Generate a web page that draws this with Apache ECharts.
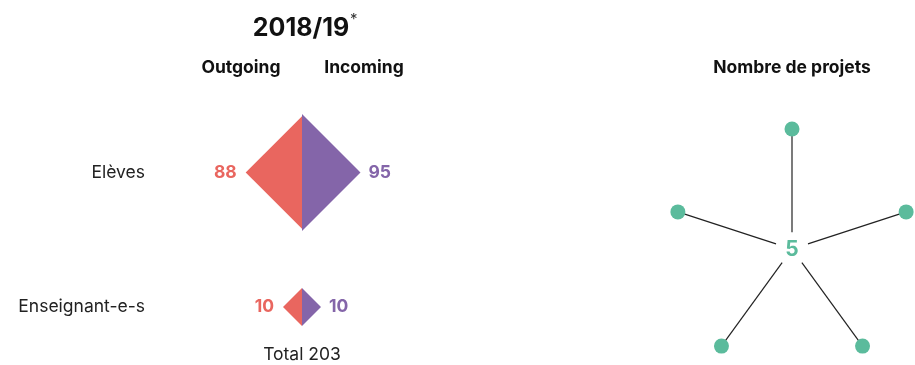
<!DOCTYPE html>
<html>
<head>
<meta charset="utf-8">
<script src="https://cdn.jsdelivr.net/npm/echarts@6/dist/echarts.min.js"></script>
<style>
  html, body { margin: 0; padding: 0; background: #fff; }
  #chart { width: 915px; height: 365px; }
</style>
</head>
<body>
<div id="chart"></div>
<script>
// Exchange figures for the school year
const yearLabel = '2018/19';
const rows = ['Elèves', 'Enseignant-e-s'];
const outgoing = [88, 10];
const incoming = [95, 10];
const directionLabels = ['Outgoing', 'Incoming'];
const projectCount = 5;

const RED = '#E9665F';
const PURPLE = '#8465A9';
const GREEN = '#5BBB9C';
const TEXT = '#222';
const FONT = 'Inter, "Noto Sans", sans-serif';

// diamond half-size in pixels grows with the square root of the value (area scale)
const SIZE_K = 6;

const total = outgoing.concat(incoming).reduce((s, v) => s + v, 0);

const diamondData = rows.map((r, i) => [i, outgoing[i], incoming[i]]);

const nodeData = [];
for (let i = 0; i < projectCount; i++) nodeData.push([1, i * 360 / projectCount]);

const chart = echarts.init(document.getElementById('chart'), null, { renderer: 'canvas' });

chart.setOption({
  animation: false,
  textStyle: { fontFamily: FONT },
  title: [
    { text: yearLabel, left: 296, top: 11, textAlign: 'center',
      textStyle: { fontSize: 25, fontWeight: 'bold', color: '#111', fontFamily: FONT } },
    { text: '*', left: 345, top: 7,
      textStyle: { fontSize: 15, fontWeight: 'normal', color: '#333', fontFamily: FONT } },
    { text: directionLabels[0], left: 236, top: 54, textAlign: 'center',
      textStyle: { fontSize: 17.5, fontWeight: 'bold', color: '#111', fontFamily: FONT } },
    { text: directionLabels[1], left: 359, top: 54, textAlign: 'center',
      textStyle: { fontSize: 17.5, fontWeight: 'bold', color: '#111', fontFamily: FONT } },
    { text: 'Nombre de projets', left: 787, top: 54, textAlign: 'center',
      textStyle: { fontSize: 17.5, fontWeight: 'bold', color: '#111', fontFamily: FONT } }
  ],
  graphic: [
    { type: 'text',
      style: { text: 'Total ' + total, x: 302, y: 355, align: 'center', verticalAlign: 'middle',
               fill: TEXT, font: '17.5px ' + FONT } }
  ],
  grid: { left: 200, width: 204, top: 172.5, height: 134.5 },
  xAxis: { type: 'value', min: -1, max: 1, show: false },
  yAxis: {
    type: 'category', data: rows, boundaryGap: false, inverse: true,
    axisLine: { show: false }, axisTick: { show: false }, splitLine: { show: false },
    axisLabel: { margin: 55, fontSize: 17.5, color: TEXT, fontFamily: FONT }
  },
  polar: { center: [792, 249], radius: 120 },
  angleAxis: { type: 'value', min: 0, max: 360, startAngle: 90, show: false },
  radiusAxis: { type: 'value', min: 0, max: 1, show: false },
  series: [
    {
      type: 'custom',
      coordinateSystem: 'cartesian2d',
      data: diamondData,
      renderItem: function (params, api) {
        const row = api.value(0);
        const out = api.value(1);
        const inc = api.value(2);
        const c = api.coord([0, row]);
        const a = SIZE_K * Math.sqrt(out);
        const b = SIZE_K * Math.sqrt(inc);
        return {
          type: 'group',
          children: [
            { type: 'polygon',
              shape: { points: [[c[0], c[1] - a], [c[0] - a, c[1]], [c[0], c[1] + a]] },
              style: { fill: RED } },
            { type: 'polygon',
              shape: { points: [[c[0], c[1] - b], [c[0] + b, c[1]], [c[0], c[1] + b]] },
              style: { fill: PURPLE } },
            { type: 'text',
              style: { text: String(out), x: c[0] - a - 9, y: c[1], align: 'right',
                       verticalAlign: 'middle', fill: RED, font: 'bold 17.5px ' + FONT } },
            { type: 'text',
              style: { text: String(inc), x: c[0] + b + 8, y: c[1], align: 'left',
                       verticalAlign: 'middle', fill: PURPLE, font: 'bold 17.5px ' + FONT } }
          ]
        };
      }
    },
    {
      // spokes from the centre label to each project node
      type: 'custom',
      coordinateSystem: 'polar',
      data: nodeData,
      renderItem: function (params, api) {
        const ang = api.value(1);
        const p0 = api.coord([0.14, ang]);
        const p1 = api.coord([1, ang]);
        return {
          type: 'line',
          shape: { x1: p0[0], y1: p0[1], x2: p1[0], y2: p1[1] },
          style: { stroke: '#222', lineWidth: 1.2 }
        };
      },
      z: 1
    },
    {
      type: 'scatter',
      coordinateSystem: 'polar',
      data: nodeData,
      symbol: 'circle',
      symbolSize: 15,
      itemStyle: { color: GREEN, opacity: 1 },
      z: 3
    },
    {
      // project count in the middle of the star
      type: 'custom',
      coordinateSystem: 'polar',
      data: [[0, 0, projectCount]],
      renderItem: function (params, api) {
        const p = api.coord([0, 0]);
        return {
          type: 'text',
          style: { text: String(api.value(2)), x: p[0], y: p[1] + 1, align: 'center',
                   verticalAlign: 'middle', fill: GREEN, font: 'bold 21px ' + FONT }
        };
      },
      z: 4
    }
  ]
});
</script>
</body>
</html>
